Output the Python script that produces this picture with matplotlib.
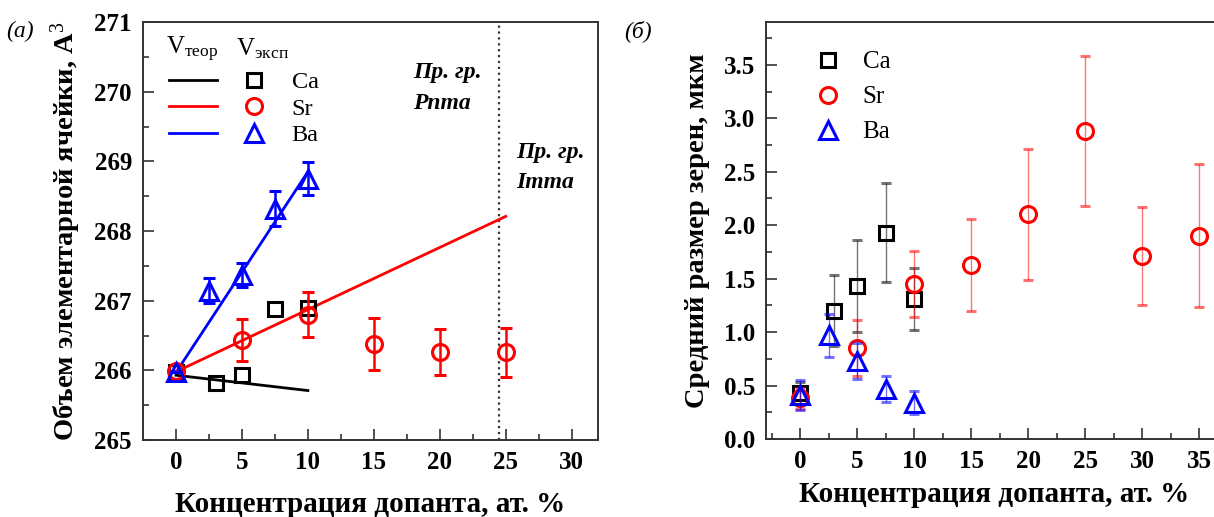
import matplotlib
matplotlib.use("Agg")
import matplotlib.pyplot as plt
from matplotlib.lines import Line2D
from matplotlib.ticker import MultipleLocator, FormatStrFormatter

plt.rcParams['font.family'] = ['Liberation Serif', 'DejaVu Serif']
plt.rcParams['mathtext.fontset'] = 'custom'
plt.rcParams['mathtext.rm'] = 'Liberation Serif'
plt.rcParams['mathtext.it'] = 'Liberation Serif:italic'
plt.rcParams['mathtext.bf'] = 'Liberation Serif:bold'

# (a) unit cell volume vs dopant concentration
ca_x = [0, 3, 5, 7.5, 10]
ca_vol = [265.97, 265.82, 265.94, 266.88, 266.89]

sr_x = [0, 5, 10, 15, 20, 25]
sr_vol = [265.99, 266.43, 266.80, 266.38, 266.26, 266.26]
sr_vol_err = [0.0, 0.30, 0.32, 0.37, 0.33, 0.35]

ba_x = [0, 2.5, 5, 7.5, 10]
ba_vol = [265.97, 267.14, 267.37, 268.32, 268.75]
ba_vol_err = [0.0, 0.18, 0.17, 0.25, 0.24]

# theoretical (Vegard-type) lines
ca_theor_x = [0, 10]
ca_theor = [265.93, 265.71]
sr_theor_x = [0, 25]
sr_theor = [265.98, 268.21]
ba_theor_x = [0, 10]
ba_theor = [265.97, 268.85]

phase_boundary = 24.5

# (б) mean grain size vs dopant concentration
ca_gx = [0, 3, 5, 7.5, 10]
ca_size = [0.43, 1.20, 1.43, 1.93, 1.31]
ca_size_err = [0.10, 0.33, 0.43, 0.46, 0.29]

sr_gx = [0, 5, 10, 15, 20, 25, 30, 35]
sr_size = [0.38, 0.85, 1.45, 1.63, 2.10, 2.88, 1.71, 1.90]
sr_size_err = [0.10, 0.26, 0.31, 0.43, 0.61, 0.70, 0.46, 0.67]

ba_gx = [0, 2.5, 5, 7.5, 10]
ba_size = [0.41, 0.97, 0.73, 0.47, 0.34]
ba_size_err = [0.14, 0.20, 0.17, 0.12, 0.11]

elements = ['Ca', 'Sr', 'Ba']
colors = ['black', 'red', 'blue']
markers = ['s', 'o', '^']
msizes = [9.5, 11.5, 12.5]

fig = plt.figure(figsize=(12.14, 5.17), dpi=100)
ax1 = fig.add_axes([0.1178, 0.1489, 0.3748, 0.8085])
ax2 = fig.add_axes([0.631, 0.1509, 0.3756, 0.8065])

spine_col = '#333333'


def style_axes(ax):
    for side in ['top', 'right', 'left', 'bottom']:
        ax.spines[side].set_color(spine_col)
        ax.spines[side].set_linewidth(1.4)
    ax.tick_params(which='both', direction='in', top=False, right=False,
                   color=spine_col, width=1.2, labelsize=18, pad=8)
    ax.tick_params(which='major', length=8)
    ax.tick_params(which='minor', length=4)
    for lab in ax.get_xticklabels() + ax.get_yticklabels():
        lab.set_fontweight('bold')


# ---- panel (a)
for x, y, c in zip([ca_theor_x, sr_theor_x, ba_theor_x],
                   [ca_theor, sr_theor, ba_theor], colors):
    ax1.plot(x, y, '-', color=c, lw=2.0, zorder=2)

ax1.plot(ca_x, ca_vol, 's', ms=msizes[0], mfc='none', mec='black', mew=2.2, zorder=3)
ax1.errorbar(sr_x, sr_vol, yerr=sr_vol_err, fmt='o', ms=msizes[1], mfc='none',
             mec='red', mew=2.2, ecolor='red', elinewidth=1.8, capsize=4,
             capthick=1.8, zorder=4)
ax1.errorbar(ba_x, ba_vol, yerr=ba_vol_err, fmt='^', ms=msizes[2], mfc='none',
             mec='blue', mew=2.2, ecolor='blue', elinewidth=1.8, capsize=4,
             capthick=1.8, zorder=5)

ax1.axvline(phase_boundary, color=spine_col, ls=':', lw=1.6, zorder=1)

ax1.set_xlim(-2.5, 32)
ax1.set_ylim(265, 271)
ax1.xaxis.set_major_locator(MultipleLocator(5))
ax1.xaxis.set_minor_locator(MultipleLocator(2.5))
ax1.yaxis.set_major_locator(MultipleLocator(1))
ax1.yaxis.set_minor_locator(MultipleLocator(0.5))
style_axes(ax1)

ax1.set_xlabel('Концентрация допанта, ат. %', fontsize=21, fontweight='bold', labelpad=12)
ax1.set_ylabel('Объем элементарной ячейки, A$^3$', fontsize=20.5, fontweight='bold', labelpad=8)

note_kw = dict(fontsize=17, fontweight='bold', style='italic', ha='left', va='center')
ax1.text(18.0, 270.28, 'Пр. гр.', **note_kw)
ax1.text(18.0, 269.83, 'Pnma', **note_kw)
ax1.text(25.8, 269.13, 'Пр. гр.', **note_kw)
ax1.text(25.8, 268.70, 'Imma', **note_kw)

# two-column legend: theoretical lines | experimental markers
line_handles = [Line2D([], [], color=c, lw=2.0) for c in colors]
mark_handles = [Line2D([], [], ls='none', marker=m, ms=s, mfc='none', mec=c, mew=2.2)
                for m, s, c in zip(markers, msizes, colors)]
ax1.legend(line_handles + mark_handles, ['', '', ''] + elements, ncol=2,
           loc='upper left', bbox_to_anchor=(0.035, 0.905), frameon=False,
           fontsize=17.5, handlelength=2.0, handletextpad=0.53,
           columnspacing=0.0, labelspacing=0.18, borderaxespad=0)
ax1.text(0.05, 0.935, 'V$_{\\mathregular{теор}}$', transform=ax1.transAxes,
         fontsize=18, ha='left', va='center')
ax1.text(0.205, 0.935, 'V$_{\\mathregular{эксп}}$', transform=ax1.transAxes,
         fontsize=18, ha='left', va='center')

# ---- panel (б)
ax2.errorbar(ca_gx, ca_size, yerr=ca_size_err, fmt='s', ms=msizes[0], mfc='none',
             mec='black', mew=2.2, ecolor=(0, 0, 0, 0.55), elinewidth=1.0,
             capsize=3.5, capthick=1.0, zorder=3)
ax2.errorbar(sr_gx, sr_size, yerr=sr_size_err, fmt='o', ms=msizes[1], mfc='none',
             mec='red', mew=2.2, ecolor=(1, 0, 0, 0.55), elinewidth=1.0,
             capsize=3.5, capthick=1.0, zorder=4)
ax2.errorbar(ba_gx, ba_size, yerr=ba_size_err, fmt='^', ms=msizes[2], mfc='none',
             mec='blue', mew=2.2, ecolor=(0, 0, 1, 0.55), elinewidth=1.0,
             capsize=3.5, capthick=1.0, zorder=5)

ax2.set_xlim(-3, 37)
ax2.set_ylim(0, 3.9)
ax2.xaxis.set_major_locator(MultipleLocator(5))
ax2.xaxis.set_minor_locator(MultipleLocator(2.5))
ax2.yaxis.set_major_locator(MultipleLocator(0.5))
ax2.yaxis.set_minor_locator(MultipleLocator(0.25))
ax2.yaxis.set_major_formatter(FormatStrFormatter('%.1f'))
style_axes(ax2)
ax2.spines['right'].set_visible(False)

ax2.set_xlabel('Концентрация допанта, ат. %', fontsize=21, fontweight='bold', labelpad=6)
ax2.set_ylabel('Средний размер зерен, мкм', fontsize=20.5, fontweight='bold', labelpad=10)

leg_handles = [Line2D([], [], ls='none', marker=m, ms=s, mfc='none', mec=c, mew=2.2)
               for m, s, c in zip(markers, msizes, colors)]
ax2.legend(leg_handles, elements, loc='upper left', bbox_to_anchor=(0.08, 0.955),
           frameon=False, fontsize=18, handlelength=1.2, handletextpad=0.8,
           labelspacing=0.5, borderaxespad=0)

fig.text(0.005, 0.94, '(a)', fontsize=17, style='italic', ha='left', va='center')
fig.text(0.514, 0.94, '(б)', fontsize=17, style='italic', ha='left', va='center')

fig.savefig('out.png', dpi=100)
